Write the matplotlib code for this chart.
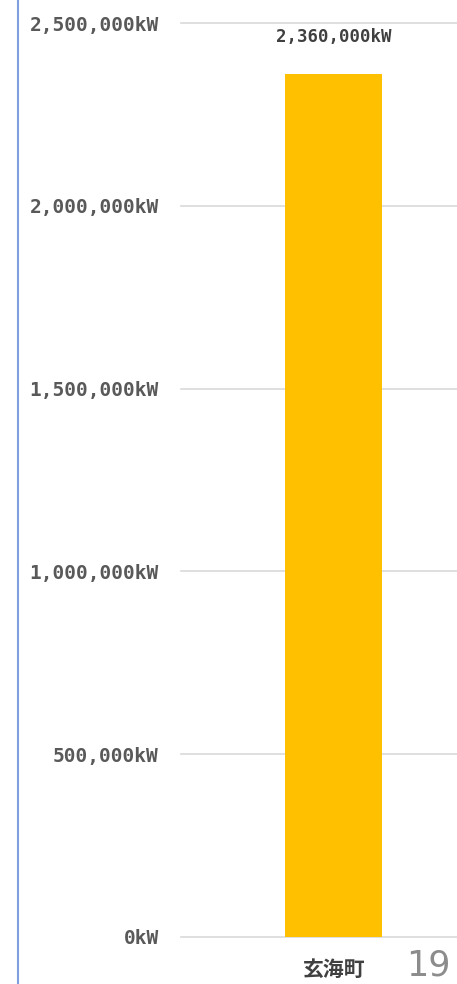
import numpy as np
import matplotlib.pyplot as plt
from matplotlib.lines import Line2D
from matplotlib.ticker import FuncFormatter

# data
towns = ["玄海町"]
capacity_kw = [2360000]
yticks = [0, 500000, 1000000, 1500000, 2000000, 2500000]

plt.rcParams['font.family'] = ['Noto Sans CJK JP', 'DejaVu Sans']

W, H = 457, 984
fig = plt.figure(figsize=(W / 100, H / 100), dpi=100)
ax = fig.add_axes([181 / W, (H - 937) / H, 276 / W, (937 - 23) / H])

x = np.arange(len(towns))
bars = ax.bar(x, capacity_kw, width=0.317, color="#ffc000", zorder=2)
ax.set_xlim(-0.5, 0.402)
ax.set_ylim(0, 2500000)
ax.set_yticks(yticks)
ax.yaxis.set_major_formatter(FuncFormatter(lambda v, p: "{:,}kW".format(int(v))))
ax.grid(axis="y", color="#d9d9d9", lw=1.2, zorder=0)
for gl in ax.get_ygridlines():
    gl.set_clip_on(False)
ax.tick_params(axis="y", length=0, pad=16)
ax.tick_params(axis="x", length=0, pad=16)
for lab in ax.get_yticklabels():
    lab.set_family("DejaVu Sans Mono")
    lab.set_fontweight("bold")
    lab.set_fontsize(14)
    lab.set_color("#595959")
ax.set_xticks(x)
ax.set_xticklabels(towns, fontsize=15, fontweight="bold", color="#404040")
for s in ax.spines.values():
    s.set_visible(False)

for b, v in zip(bars, capacity_kw):
    ax.annotate("{:,}kW".format(v), (b.get_x() + b.get_width() / 2, v),
                xytext=(0, 20), textcoords="offset points", ha="center", va="bottom",
                family="DejaVu Sans Mono", fontweight="bold", fontsize=12.5, color="#404040")

# left border line and page number
fig.add_artist(Line2D([17.5 / W, 17.5 / W], [0, 1], color="#7f9fdf", lw=1.5))
fig.text(428 / W, 1 - 948 / H, "19", fontsize=25, color="#8c8c8c", ha="center", va="top",
         family="DejaVu Sans")

fig.savefig("out.png", dpi=100)
